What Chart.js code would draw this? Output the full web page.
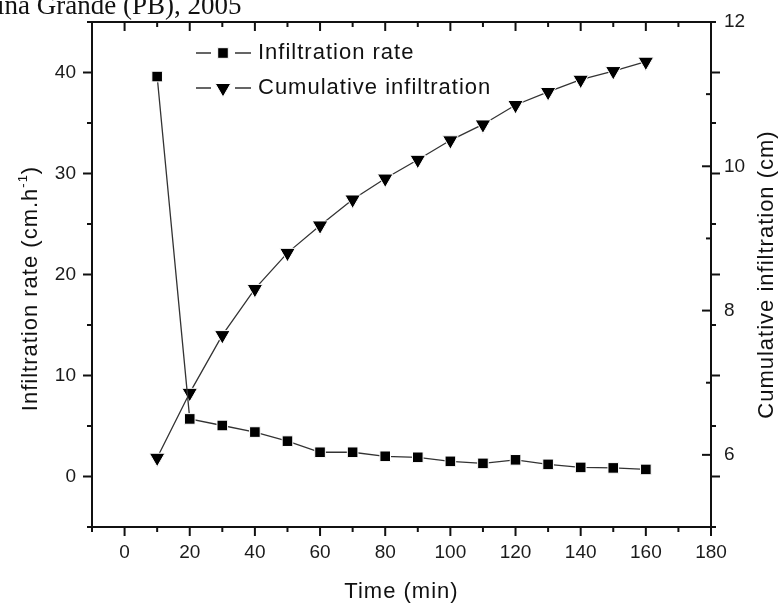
<!DOCTYPE html>
<html>
<head>
<meta charset="utf-8">
<script src="https://cdn.jsdelivr.net/npm/chart.js@4"></script>
<style>
  html, body { margin: 0; padding: 0; background: #fff; }
  #wrap { position: relative; width: 782px; height: 603px; overflow: hidden; }
  #caption {
    position: absolute; left: -3px; top: -8px;
    font-family: "Liberation Serif", "Times New Roman", serif;
    font-size: 27px; line-height: 26px; color: #111; white-space: nowrap;
  }
</style>
</head>
<body>
<div id="wrap">
  <canvas id="chart" width="782" height="603"></canvas>
  <div id="caption">ina Grande (PB), 2005</div>
</div>
<script>
// time (min)
const times = [10, 20, 30, 40, 50, 60, 70, 80, 90, 100, 110, 120, 130, 140, 150, 160];
// infiltration rate (cm/h), left axis
const infiltrationRate = [39.6, 5.7, 5.05, 4.4, 3.5, 2.4, 2.4, 2.0, 1.9, 1.5, 1.3, 1.65, 1.2, 0.9, 0.85, 0.7];
// cumulative infiltration (cm), right axis
const cumulativeInfiltration = [5.96, 6.86, 7.66, 8.30, 8.80, 9.18, 9.54, 9.83, 10.09, 10.36, 10.58, 10.85, 11.03, 11.20, 11.32, 11.45];

const xTicks = [0, 20, 40, 60, 80, 100, 120, 140, 160, 180];
const xMinor = [-10, 10, 30, 50, 70, 90, 110, 130, 150, 170];
const rateTicks = [0, 10, 20, 30, 40];
const rateMinor = [-5, 5, 15, 25, 35, 45];
const cumTicks = [6, 8, 10, 12];
const cumMinor = [5, 7, 9, 11];

const xTitle = 'Time (min)';
const rateTitle = ['Infiltration rate (cm.h', '-1', ')'];
const cumTitle = 'Cumulative infiltration (cm)';

const sans = '"Liberation Sans", Arial, sans-serif';

// frame, tick marks, axis titles and legend drawn the Origin way
const frame = {
  id: 'frame',
  afterDraw(chart) {
    const { ctx, chartArea: a, scales } = chart;
    ctx.save();
    ctx.strokeStyle = '#111';
    ctx.fillStyle = '#111';
    ctx.lineWidth = 2;
    ctx.strokeRect(a.left, a.top, a.right - a.left, a.bottom - a.top);

    const tick = (px, py, dx, dy) => {
      ctx.beginPath();
      ctx.moveTo(px, py);
      ctx.lineTo(px + dx, py + dy);
      ctx.stroke();
    };
    xTicks.forEach(v => {
      const p = scales.x.getPixelForValue(v);
      tick(p, a.bottom, 0, 9);
      tick(p, a.top, 0, 9);
    });
    xMinor.forEach(v => {
      const p = scales.x.getPixelForValue(v);
      tick(p, a.bottom, 0, 5);
      tick(p, a.top, 0, 5);
    });
    rateTicks.forEach(v => {
      const p = scales.y.getPixelForValue(v);
      tick(a.left, p, -9, 0);
      tick(a.right, p, 9, 0);
    });
    rateMinor.forEach(v => {
      const p = scales.y.getPixelForValue(v);
      tick(a.left, p, -5, 0);
      tick(a.right, p, 5, 0);
    });
    cumTicks.forEach(v => tick(a.right, scales.y2.getPixelForValue(v), -9, 0));
    cumMinor.forEach(v => tick(a.right, scales.y2.getPixelForValue(v), -5, 0));

    // axis titles
    ctx.letterSpacing = '1px';
    ctx.font = '22px ' + sans;
    ctx.textBaseline = 'middle';
    ctx.textAlign = 'center';
    ctx.fillText(xTitle, (a.left + a.right) / 2, 592);

    const midY = (a.top + a.bottom) / 2;
    ctx.save();
    ctx.translate(31, midY + 14);
    ctx.rotate(-Math.PI / 2);
    ctx.font = '22px ' + sans;
    const w0 = ctx.measureText(rateTitle[0]).width;
    ctx.font = '13px ' + sans;
    const w1 = ctx.measureText(rateTitle[1]).width;
    ctx.font = '22px ' + sans;
    const w2 = ctx.measureText(rateTitle[2]).width;
    let sx = -(w0 + w1 + w2) / 2;
    ctx.textAlign = 'left';
    ctx.fillText(rateTitle[0], sx, 0);
    ctx.font = '13px ' + sans;
    ctx.fillText(rateTitle[1], sx + w0, -8);
    ctx.font = '22px ' + sans;
    ctx.fillText(rateTitle[2], sx + w0 + w1, 0);
    ctx.restore();

    ctx.save();
    ctx.translate(767, midY);
    ctx.rotate(-Math.PI / 2);
    ctx.textAlign = 'center';
    ctx.fillText(cumTitle, 0, 0);
    ctx.restore();

    // legend: short dash, marker, short dash, label
    ctx.textAlign = 'left';
    chart.data.datasets.forEach((ds, i) => {
      const y = a.top + 31 + i * 35;
      const lx = a.left + 104;
      ctx.lineWidth = 1.3;
      ctx.strokeStyle = '#333';
      ctx.beginPath();
      ctx.moveTo(lx, y);
      ctx.lineTo(lx + 15, y);
      ctx.moveTo(lx + 39, y);
      ctx.lineTo(lx + 55, y);
      ctx.stroke();
      ctx.fillStyle = '#000';
      ctx.strokeStyle = '#fff';
      ctx.lineWidth = 1;
      Chart.helpers.drawPoint(ctx, {
        pointStyle: ds.pointStyle,
        radius: ds.pointRadius,
        rotation: ds.pointRotation || 0,
        borderWidth: 1
      }, lx + 27, y);
      ctx.fillStyle = '#111';
      ctx.font = '22px ' + sans;
      ctx.fillText(ds.label, lx + 62, y);
    });
    ctx.restore();
  }
};

const tickFont = { family: sans, size: 19 };
const noPadY = s => { s.paddingTop = 0; s.paddingBottom = 0; };

new Chart(document.getElementById('chart'), {
  type: 'line',
  data: {
    datasets: [
      {
        label: 'Infiltration rate',
        data: times.map((t, i) => ({ x: t, y: infiltrationRate[i] })),
        yAxisID: 'y',
        borderColor: '#333',
        borderWidth: 1.3,
        pointStyle: 'rect',
        pointRadius: 7.5,
        pointBackgroundColor: '#000',
        pointBorderColor: '#fff',
        pointBorderWidth: 1,
        tension: 0,
        fill: false
      },
      {
        label: 'Cumulative infiltration',
        data: times.map((t, i) => ({ x: t, y: cumulativeInfiltration[i] })),
        yAxisID: 'y2',
        borderColor: '#333',
        borderWidth: 1.3,
        pointStyle: 'triangle',
        pointRotation: 180,
        pointRadius: 9,
        pointBackgroundColor: '#000',
        pointBorderColor: '#fff',
        pointBorderWidth: 1,
        tension: 0,
        fill: false
      }
    ]
  },
  options: {
    responsive: false,
    animation: false,
    devicePixelRatio: 1,
    layout: { padding: { top: 22, left: 0, right: 0, bottom: 0 } },
    plugins: { legend: { display: false }, tooltip: { enabled: false } },
    scales: {
      x: {
        type: 'linear',
        position: 'bottom',
        min: -10,
        max: 180,
        afterBuildTicks: s => { s.ticks = xTicks.map(v => ({ value: v })); },
        afterFit: s => { s.height = 76; s.paddingLeft = 0; s.paddingRight = 0; },
        grid: { display: false, drawTicks: false },
        border: { display: false },
        ticks: { font: tickFont, color: '#1a1a1a', padding: 14, maxRotation: 0 }
      },
      y: {
        position: 'left',
        min: -5,
        max: 45,
        afterBuildTicks: s => { s.ticks = rateTicks.map(v => ({ value: v })); },
        afterFit: s => { s.width = 92; noPadY(s); },
        grid: { display: false, drawTicks: false },
        border: { display: false },
        ticks: { font: tickFont, color: '#1a1a1a', padding: 16 }
      },
      y2: {
        position: 'right',
        min: 5,
        max: 12,
        afterBuildTicks: s => { s.ticks = cumTicks.map(v => ({ value: v })); },
        afterFit: s => { s.width = 71; noPadY(s); },
        grid: { display: false, drawTicks: false },
        border: { display: false },
        ticks: { font: tickFont, color: '#1a1a1a', padding: 13 }
      }
    }
  },
  plugins: [frame]
});
</script>
</body>
</html>
